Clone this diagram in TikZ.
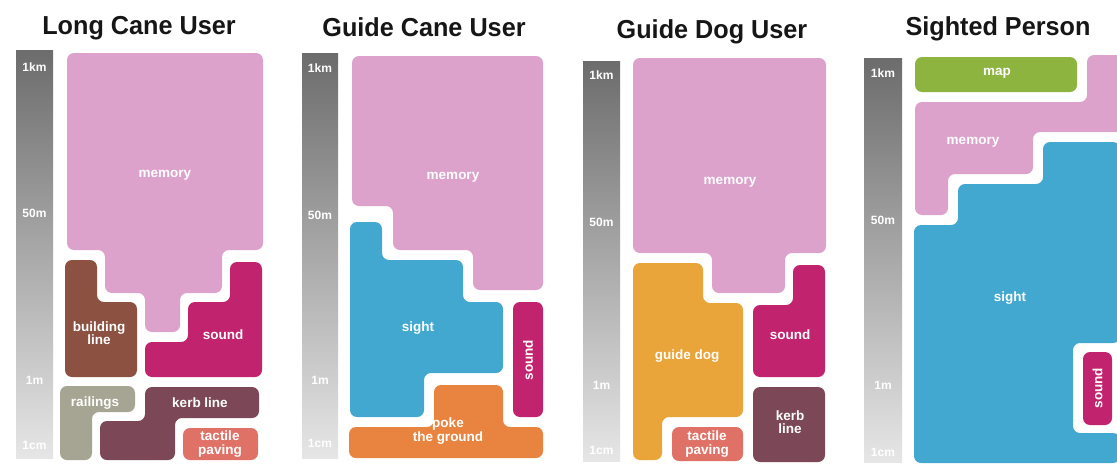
\documentclass[tikz,border=0pt]{standalone}
\usepackage{fontspec}
\setmainfont{Liberation Sans}
\usetikzlibrary{calc}

\definecolor{memcol}{HTML}{DDA2CB}
\definecolor{soundcol}{HTML}{C2236F}
\definecolor{buildcol}{HTML}{8C5141}
\definecolor{railcol}{HTML}{A6A593}
\definecolor{kerbcol}{HTML}{7C4858}
\definecolor{tactcol}{HTML}{E07167}
\definecolor{sightcol}{HTML}{42A8D0}
\definecolor{pokecol}{HTML}{E8843F}
\definecolor{dogcol}{HTML}{E9A43A}
\definecolor{mapcol}{HTML}{8DB43F}
\definecolor{bartop}{HTML}{6C6C6C}
\definecolor{barbot}{HTML}{E6E6E6}
\definecolor{titlecol}{HTML}{161616}

\begin{document}
\begin{tikzpicture}[x=1pt,y=-1pt,
  tile/.style={rounded corners=7pt},
  lbl/.style={text=white,font=\fontsize{13.5}{13.5}\selectfont\bfseries,align=center,inner sep=0pt},
  scalelbl/.style={text=white,font=\fontsize{12}{12}\selectfont\bfseries,inner sep=0pt},
  ttl/.style={text=titlecol,font=\fontsize{26}{28}\selectfont\bfseries,inner sep=0pt,anchor=base},
  bar/.style={top color=bartop,bottom color=barbot}]

\useasboundingbox[fill=white] (0,0) rectangle (1117,466);

% ---------- titles ----------
\node[ttl] (t1) at (139,34) {\scalebox{0.97}[1]{Long Cane User}};
\node[ttl] (t2) at (424,36) {\scalebox{0.97}[1]{Guide Cane User}};
\node[ttl] (t3) at (712,38) {\scalebox{0.97}[1]{Guide Dog User}};
\node[ttl] (t4) at (998,35) {\scalebox{0.97}[1]{Sighted Person}};

% ---------- distance scales ----------
\shade[bar] (16,50) rectangle (53,458);
\shade[bar] (302,53) rectangle (338,458);
\shade[bar] (583,61) rectangle (620,461);
\shade[bar] (864,58) rectangle (902,462);

\foreach \bx/\ya/\yb/\yc/\yd [count=\i] in
  {34.5/67/213/380/445, 320/68/215/380/443, 601.5/75/222/385/450, 883/73/220/385/452}{
  \node[scalelbl] (km\i) at (\bx,\ya) {1km};
  \node[scalelbl] (fm\i) at (\bx,\yb) {50m};
  \node[scalelbl] (m\i)  at (\bx,\yc) {1m};
  \node[scalelbl] (cm\i) at (\bx,\yd) {1cm};
}

% ---------- Long Cane User ----------
\fill[tile,memcol] (165,53) -- (263,53) -- (263,250) -- (222,250) -- (222,293)
  -- (180,293) -- (180,332) -- (145,332) -- (145,293) -- (105,293) -- (105,250)
  -- (67,250) -- (67,53) -- cycle;
\fill[tile,buildcol] (81,260) -- (97,260) -- (97,302) -- (137,302) -- (137,377)
  -- (65,377) -- (65,260) -- cycle;
\fill[tile,soundcol] (246,262) -- (262,262) -- (262,377) -- (145,377) -- (145,342)
  -- (188,342) -- (188,302) -- (230,302) -- (230,262) -- cycle;
\fill[tile,railcol] (98,386) -- (135,386) -- (135,412) -- (92,412) -- (92,460)
  -- (60,460) -- (60,386) -- cycle;
\fill[tile,kerbcol] (200,387) -- (259,387) -- (259,418) -- (175,418) -- (175,460)
  -- (100,460) -- (100,421) -- (145,421) -- (145,387) -- cycle;
\fill[tile,tactcol] (183,428) rectangle (258,460);

\node[lbl] (mem1)  at (165,175) {memory};
\node[lbl] (bld1)  at (99,333) {building\\line};
\node[lbl] (snd1)  at (223,335) {sound};
\node[lbl] (rail1) at (95,403) {railings};
\node[lbl] (kerb1) at (200,403) {kerb line};
\node[lbl] (tact1) at (220,444) {tactile\\paving};

% ---------- Guide Cane User ----------
\fill[tile,memcol] (448,56) -- (543,56) -- (543,290) -- (473,290) -- (473,250)
  -- (393,250) -- (393,206) -- (352,206) -- (352,56) -- cycle;
\fill[tile,sightcol] (366,222) -- (382,222) -- (382,260) -- (463,260) -- (463,302)
  -- (503,302) -- (503,373) -- (424,373) -- (424,417) -- (350,417) -- (350,222) -- cycle;
\fill[tile,soundcol] (513,302) rectangle (543,417);
\fill[tile,pokecol] (468,385) -- (503,385) -- (503,427) -- (543,427) -- (543,458)
  -- (349,458) -- (349,427) -- (434,427) -- (434,385) -- cycle;

\node[lbl] (mem2)   at (453,177) {memory};
\node[lbl] (sight2) at (418,328) {sight};
\node[lbl,rotate=90] (snd2) at (528,360) {sound};
\node[lbl] (poke2)  at (448,431) {poke\\the ground};

% ---------- Guide Dog User ----------
\fill[tile,memcol] (730,58) -- (826,58) -- (826,253) -- (785,253) -- (785,293)
  -- (712,293) -- (712,253) -- (633,253) -- (633,58) -- cycle;
\fill[tile,dogcol] (668,263) -- (703,263) -- (703,303) -- (743,303) -- (743,417)
  -- (662,417) -- (662,460) -- (633,460) -- (633,263) -- cycle;
\fill[tile,soundcol] (809,265) -- (825,265) -- (825,377) -- (753,377) -- (753,305)
  -- (793,305) -- (793,265) -- cycle;
\fill[tile,kerbcol] (753,387) rectangle (825,462);
\fill[tile,tactcol] (672,427) rectangle (743,461);

\node[lbl] (mem3)  at (730,182) {memory};
\node[lbl] (snd3)  at (790,335) {sound};
\node[lbl] (dog3)  at (687,356) {guide dog};
\node[lbl] (tact3) at (707,444) {tactile\\paving};
\node[lbl] (kerb3) at (790,422) {kerb\\line};

% ---------- Sighted Person ----------
\begin{scope}
  \clip (0,0) rectangle (1117,466);
  \fill[tile,mapcol] (915,57) rectangle (1077,92);
  \fill[tile,memcol] (1000,102) -- (1087,102) -- (1087,55) -- (1135,55) -- (1135,132)
    -- (1033,132) -- (1033,174) -- (948,174) -- (948,215) -- (915,215) -- (915,102) -- cycle;
  \fill[tile,sightcol] (1090,142) -- (1120,142) -- (1120,343) -- (1073,343) -- (1073,433)
    -- (1120,433) -- (1120,463) -- (914,463) -- (914,225) -- (958,225) -- (958,184)
    -- (1043,184) -- (1043,142) -- cycle;
  \fill[tile,soundcol] (1083,352) rectangle (1112,425);
\end{scope}

\node[lbl] (map4)   at (997,73) {map};
\node[lbl] (mem4)   at (973,142) {memory};
\node[lbl] (sight4) at (1010,298) {sight};
\node[lbl,rotate=90] (snd4) at (1097.5,388) {sound};

\end{tikzpicture}
\end{document}
